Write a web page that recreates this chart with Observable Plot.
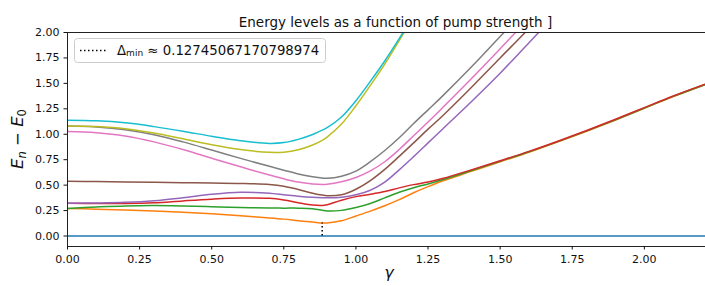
<!DOCTYPE html>
<html><head><meta charset="utf-8">
<script src="https://cdn.jsdelivr.net/npm/d3@7"></script>
<script src="https://cdn.jsdelivr.net/npm/@observablehq/plot@0.6"></script>
<style>
html,body{margin:0;padding:0;background:#fff;}
#chart{width:705px;height:286px;}
</style></head><body><div id="chart"></div>
<script>
// pump strength grid
const gamma = [0,0.1,0.2,0.3,0.4,0.5,0.6,0.7,0.75,0.8,0.85,0.883,0.9,0.95,1.0,1.05,1.1,1.15,1.2,1.25,1.3,1.4,1.5,1.6,1.7,1.8,1.9,2.0,2.1,2.212];
// E_n - E_0 for each level (null = beyond the plotted range)
const level0 = [0,0,0,0,0,0,0,0,0,0,0,0,0,0,0,0,0,0,0,0,0,0,0,0,0,0,0,0,0,0];
const level1 = [0.271,0.264,0.256,0.246,0.233,0.218,0.199,0.178,0.166,0.151,0.137,0.1275,0.128,0.150,0.197,0.245,0.297,0.357,0.425,0.485,0.54,0.635,0.73,0.822,0.925,1.03,1.14,1.255,1.37,1.49];
const level2 = [0.271,0.285,0.296,0.299,0.295,0.288,0.280,0.275,0.274,0.274,0.269,0.254,0.246,0.252,0.280,0.320,0.375,0.430,0.475,0.512,0.553,0.643,0.735,0.828,0.928,1.033,1.143,1.258,1.372,1.49];
const level3 = [0.322,0.320,0.319,0.326,0.345,0.362,0.373,0.370,0.354,0.327,0.304,0.300,0.308,0.352,0.387,0.410,0.437,0.473,0.505,0.530,0.565,0.650,0.740,0.832,0.932,1.037,1.147,1.262,1.376,1.493];
const level4 = [0.323,0.325,0.331,0.347,0.376,0.410,0.430,0.421,0.406,0.391,0.380,0.376,0.375,0.381,0.405,0.450,0.530,0.650,0.780,0.915,1.05,1.32,1.60,1.90,2.20,null,null,null,null,null];
const level5 = [0.537,0.535,0.532,0.528,0.524,0.520,0.517,0.507,0.490,0.457,0.421,0.402,0.396,0.406,0.460,0.545,0.655,0.783,0.915,1.05,1.18,1.46,1.75,2.04,2.35,null,null,null,null,null];
const level6 = [1.027,1.015,0.983,0.925,0.850,0.765,0.680,0.600,0.562,0.530,0.512,0.507,0.509,0.533,0.575,0.640,0.730,0.850,0.985,1.12,1.26,1.545,1.84,2.14,null,null,null,null,null,null];
const level7 = [1.080,1.072,1.045,0.995,0.925,0.845,0.763,0.685,0.647,0.610,0.582,0.569,0.567,0.588,0.638,0.730,0.840,0.965,1.105,1.24,1.375,1.66,1.96,2.26,null,null,null,null,null,null];
const level8 = [1.082,1.076,1.055,1.012,0.955,0.897,0.850,0.822,0.824,0.848,0.895,0.940,0.972,1.100,1.280,1.480,1.690,1.920,2.160,null,null,null,null,null,null,null,null,null,null,null];
const level9 = [1.138,1.132,1.112,1.075,1.030,0.980,0.937,0.910,0.918,0.950,0.998,1.040,1.065,1.170,1.330,1.520,1.720,1.940,2.170,null,null,null,null,null,null,null,null,null,null,null];
const levels = [level0,level1,level2,level3,level4,level5,level6,level7,level8,level9];
const levelNames = ["n=0","n=1","n=2","n=3","n=4","n=5","n=6","n=7","n=8","n=9"];
const levelColors = ["#1f77b4","#ff7f0e","#2ca02c","#d62728","#9467bd","#8c564b","#e377c2","#7f7f7f","#bcbd22","#17becf"];

const xTicks = [0,0.25,0.5,0.75,1.0,1.25,1.5,1.75,2.0];
const yTicks = [0,0.25,0.5,0.75,1.0,1.25,1.5,1.75,2.0];
const xDomain = [0, 2.212];
const yDomain = [-0.103, 2.0];

const deltaGamma = [0.883];
const deltaMin = [0.12745067170798974];

const titleText = "Energy levels as a function of pump strength ]";
const xLabelText = "γ";

const rows = [];
levels.forEach((vals, i) => vals.forEach((v, j) => {
  if (v != null) rows.push({gamma: gamma[j], E: v, level: levelNames[i]});
}));
const gapRule = deltaGamma.map((g, i) => ({gamma: g, lo: 0, hi: deltaMin[i]}));

const svg = Plot.plot({
  width: 705, height: 286,
  marginLeft: 67, marginRight: 0, marginTop: 32, marginBottom: 40,
  style: {fontFamily: "'DejaVu Sans', sans-serif", fontSize: "11px", color: "#111", background: "#fff", overflow: "visible"},
  x: {domain: xDomain},
  y: {domain: yDomain},
  color: {domain: levelNames, range: levelColors},
  marks: [
    Plot.line(rows, {x: "gamma", y: "E", z: "level", stroke: "level", strokeWidth: 1.5, curve: "catmull-rom", clip: true}),
    Plot.ruleX(gapRule, {x: "gamma", y1: "lo", y2: "hi", stroke: "black", strokeWidth: 1.5, strokeDasharray: "1.5,2.5"}),
    Plot.ruleX([xDomain[0]], {stroke: "#222", strokeWidth: 1}),
    Plot.ruleY([yDomain[0], yDomain[1]], {stroke: "#222", strokeWidth: 1}),
    Plot.axisX({ticks: xTicks, tickFormat: d3.format(".2f"), tickSize: 3.5, tickPadding: 5.5, label: null}),
    Plot.axisY({ticks: yTicks, tickFormat: d3.format(".2f"), tickSize: 3.5, tickPadding: 4.5, label: null})
  ]
});

const s = d3.select(svg);
// title
s.append("text").attr("x", 395.5).attr("y", 26.7).attr("text-anchor", "middle")
  .attr("font-size", 13.5).attr("fill", "#111").text(titleText);
// x label
s.append("text").attr("x", 389).attr("y", 278).attr("text-anchor", "middle")
  .attr("font-size", 16).attr("font-style", "italic").attr("fill", "#111").text(xLabelText);
// y label
const yl = s.append("text").attr("transform", "translate(23,139) rotate(-90)")
  .attr("text-anchor", "middle").attr("font-size", 16.5).attr("fill", "#111");
yl.append("tspan").attr("font-style", "italic").text("E");
yl.append("tspan").attr("font-style", "italic").attr("font-size", 11.5).attr("dy", 3).text("n");
yl.append("tspan").attr("dy", -3).text(" − ");
yl.append("tspan").attr("font-style", "italic").text("E");
yl.append("tspan").attr("font-size", 11.5).attr("dy", 3).text("0");
// legend
const lg = s.append("g");
lg.append("rect").attr("x", 74.5).attr("y", 38.5).attr("width", 251).attr("height", 24).attr("rx", 3)
  .attr("fill", "white").attr("fill-opacity", 0.8).attr("stroke", "#ccc");
lg.append("line").attr("x1", 80).attr("x2", 106).attr("y1", 50.5).attr("y2", 50.5)
  .attr("stroke", "black").attr("stroke-width", 1.5).attr("stroke-dasharray", "1.5,2.5");
const lt = lg.append("text").attr("x", 117).attr("y", 54.5).attr("text-anchor", "start")
  .attr("font-size", 13.3).attr("fill", "#111");
lt.append("tspan").text("Δ");
lt.append("tspan").attr("font-size", 9).attr("dy", 1).text("min");
lt.append("tspan").attr("dy", -1).text(" ≈ " + deltaMin[0]);

document.getElementById("chart").appendChild(svg);
</script></body></html>
